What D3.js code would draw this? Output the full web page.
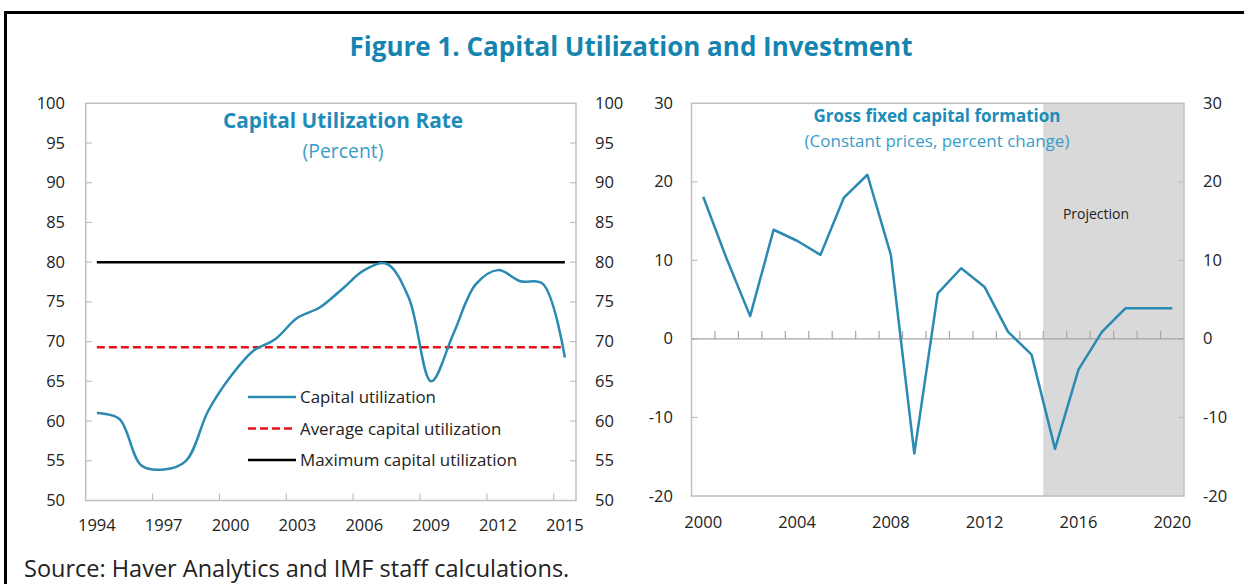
<!DOCTYPE html>
<html><head><meta charset="utf-8">
<script src="https://cdn.jsdelivr.net/npm/d3@7"></script>
<style>
body{margin:0;background:#fff;}
svg{display:block;font-family:"Open Sans","Noto Sans",sans-serif;}
</style></head>
<body><svg id="c" width="1244" height="584"></svg>
<script>
// ---- Data ----
const utilYears = d3.range(1994, 2016);
const utilValues = [61.0, 60.3, 54.4, 53.9, 55.0, 61.3, 65.6, 68.8, 70.3, 73.0, 74.3, 76.6, 79.0, 79.8, 75.5, 65.0, 71.0, 77.2, 79.0, 77.6, 77.3, 68.0];
const avgUtil = 69.3;
const maxUtil = 80;
const utilYTicks = [50, 55, 60, 65, 70, 75, 80, 85, 90, 95, 100];
const utilXLabels = [1994, 1997, 2000, 2003, 2006, 2009, 2012, 2015];

const gfcfYears = d3.range(2000, 2021);
const gfcfValues = [18.1, 10.2, 2.9, 13.9, 12.5, 10.7, 18.0, 20.9, 10.7, -14.6, 5.8, 9.0, 6.6, 0.9, -2.0, -14.0, -3.9, 0.9, 3.9, 3.9, 3.9];
const gfcfYTicks = [-20, -10, 0, 10, 20, 30];
const gfcfXLabels = [2000, 2004, 2008, 2012, 2016, 2020];
const projectionStart = 2015;

const svg = d3.select("#c");
const teal = "#2a8ab2";
const frameCol = "#bfbfbf";
const txt = "#222";
const tickFont = 16.5;

// outer frame
svg.append("path").attr("d", "M5.5,585 V12.5 H1250").attr("fill", "none").attr("stroke", "#000").attr("stroke-width", 3);

svg.append("text").attr("x", 631).attr("y", 56).attr("text-anchor", "middle")
  .attr("font-size", 26).attr("font-weight", 700).attr("fill", "#1585b0")
  .text("Figure 1. Capital Utilization and Investment");

svg.append("text").attr("x", 24).attr("y", 577).attr("font-size", 23.5).attr("fill", txt)
  .text("Source: Haver Analytics and IMF staff calculations.");

// ---------- Left chart ----------
{
  const L = 85.7, R = 576, T = 103.3, B = 500.5;
  const x = d3.scalePoint().domain(utilYears).range([L, R]).padding(0.5);
  const step = x.step();
  const y = d3.scaleLinear().domain([50, 100]).range([B, T]);
  const g = svg.append("g");

  utilYTicks.forEach(v => {
    if (v === 50 || v === 100) return;
    g.append("line").attr("x1", L).attr("x2", L + 6).attr("y1", y(v)).attr("y2", y(v)).attr("stroke", frameCol).attr("stroke-width", 1.2);
    g.append("line").attr("x1", R - 6).attr("x2", R).attr("y1", y(v)).attr("y2", y(v)).attr("stroke", frameCol).attr("stroke-width", 1.2);
  });
  for (let k = 3; k < utilYears.length; k += 3) {
    const xx = L + k * step;
    g.append("line").attr("x1", xx).attr("x2", xx).attr("y1", B).attr("y2", B - 7).attr("stroke", frameCol).attr("stroke-width", 1.2);
  }
  g.append("rect").attr("x", L).attr("y", T).attr("width", R - L).attr("height", B - T)
    .attr("fill", "none").attr("stroke", frameCol).attr("stroke-width", 1.5);

  utilYTicks.forEach(v => {
    g.append("text").attr("x", 65).attr("y", y(v) + 5.5).attr("text-anchor", "end").attr("font-size", tickFont).attr("fill", txt).text(v);
    g.append("text").attr("x", 595).attr("y", y(v) + 5.5).attr("text-anchor", "start").attr("font-size", tickFont).attr("fill", txt).text(v);
  });
  utilXLabels.forEach(v => {
    g.append("text").attr("x", x(v)).attr("y", 531).attr("text-anchor", "middle").attr("font-size", tickFont).attr("fill", txt).text(v);
  });

  const x0 = x(utilYears[0]), x1 = x(utilYears[utilYears.length - 1]);
  g.append("line").attr("x1", x0).attr("x2", x1).attr("y1", y(maxUtil)).attr("y2", y(maxUtil)).attr("stroke", "#000").attr("stroke-width", 2.5);
  g.append("line").attr("x1", x0).attr("x2", x1).attr("y1", y(avgUtil)).attr("y2", y(avgUtil)).attr("stroke", "#e8101a").attr("stroke-width", 2.5).attr("stroke-dasharray", "8,4");

  const line = d3.line().x((d, i) => x(utilYears[i])).y(d => y(d)).curve(d3.curveCatmullRom.alpha(0.5));
  g.append("path").attr("d", line(utilValues)).attr("fill", "none").attr("stroke", teal).attr("stroke-width", 2.5);

  g.append("text").attr("x", 343).attr("y", 128).attr("text-anchor", "middle").attr("font-size", 20.8).attr("font-weight", 700).attr("fill", "#1e8cb8").text("Capital Utilization Rate");
  g.append("text").attr("x", 343).attr("y", 158).attr("text-anchor", "middle").attr("font-size", 19.4).attr("fill", "#3a9dc8").text("(Percent)");

  const leg = [
    {label: "Capital utilization", color: teal, dash: null},
    {label: "Average capital utilization", color: "#e8101a", dash: "8,4"},
    {label: "Maximum capital utilization", color: "#000", dash: null}
  ];
  leg.forEach((d, i) => {
    const yy = 397 + i * 31.5;
    g.append("line").attr("x1", 248).attr("x2", 296).attr("y1", yy).attr("y2", yy).attr("stroke", d.color).attr("stroke-width", 2.5).attr("stroke-dasharray", d.dash);
    g.append("text").attr("x", 300).attr("y", yy + 6).attr("font-size", 16.9).attr("fill", txt).text(d.label);
  });
}

// ---------- Right chart ----------
{
  const L = 691.5, R = 1184, T = 103.3, B = 496;
  const x = d3.scalePoint().domain(gfcfYears).range([L, R]).padding(0.5);
  const step = x.step();
  const y = d3.scaleLinear().domain([-20, 30]).range([B, T]);
  const g = svg.append("g");

  const px = L + (gfcfYears.indexOf(projectionStart)) * step;
  g.append("rect").attr("x", px).attr("y", T).attr("width", R - px).attr("height", B - T).attr("fill", "#d9d9d9");

  gfcfYTicks.forEach(v => {
    if (v === -20 || v === 30) return;
    g.append("line").attr("x1", L).attr("x2", L + 6).attr("y1", y(v)).attr("y2", y(v)).attr("stroke", frameCol).attr("stroke-width", 1.2);
    g.append("line").attr("x1", R - 6).attr("x2", R).attr("y1", y(v)).attr("y2", y(v)).attr("stroke", frameCol).attr("stroke-width", 1.2);
  });
  g.append("line").attr("x1", L).attr("x2", R).attr("y1", y(0)).attr("y2", y(0)).attr("stroke", "#a6a6a6").attr("stroke-width", 1.2);
  for (let k = 1; k < gfcfYears.length; k++) {
    const xx = L + k * step;
    g.append("line").attr("x1", xx).attr("x2", xx).attr("y1", y(0)).attr("y2", y(0) - 8).attr("stroke", "#a6a6a6").attr("stroke-width", 1.2);
  }
  g.append("rect").attr("x", L).attr("y", T).attr("width", R - L).attr("height", B - T)
    .attr("fill", "none").attr("stroke", frameCol).attr("stroke-width", 1.5);

  gfcfYTicks.forEach(v => {
    g.append("text").attr("x", 673).attr("y", y(v) + 5.5).attr("text-anchor", "end").attr("font-size", tickFont).attr("fill", txt).text(v);
    g.append("text").attr("x", 1203).attr("y", y(v) + 5.5).attr("text-anchor", "start").attr("font-size", tickFont).attr("fill", txt).text(v);
  });
  gfcfXLabels.forEach(v => {
    g.append("text").attr("x", x(v)).attr("y", 528).attr("text-anchor", "middle").attr("font-size", tickFont).attr("fill", txt).text(v);
  });

  const line = d3.line().x((d, i) => x(gfcfYears[i])).y(d => y(d));
  g.append("path").attr("d", line(gfcfValues)).attr("fill", "none").attr("stroke", teal).attr("stroke-width", 2.5).attr("stroke-linejoin", "round");

  g.append("text").attr("x", 937).attr("y", 122).attr("text-anchor", "middle").attr("font-size", 17).attr("font-weight", 700).attr("fill", "#1e8cb8").text("Gross fixed capital formation");
  g.append("text").attr("x", 937).attr("y", 147).attr("text-anchor", "middle").attr("font-size", 17).attr("fill", "#3a9dc8").text("(Constant prices, percent change)");
  g.append("text").attr("x", 1096).attr("y", 219).attr("text-anchor", "middle").attr("font-size", 14).attr("fill", txt).text("Projection");
}
</script></body></html>
